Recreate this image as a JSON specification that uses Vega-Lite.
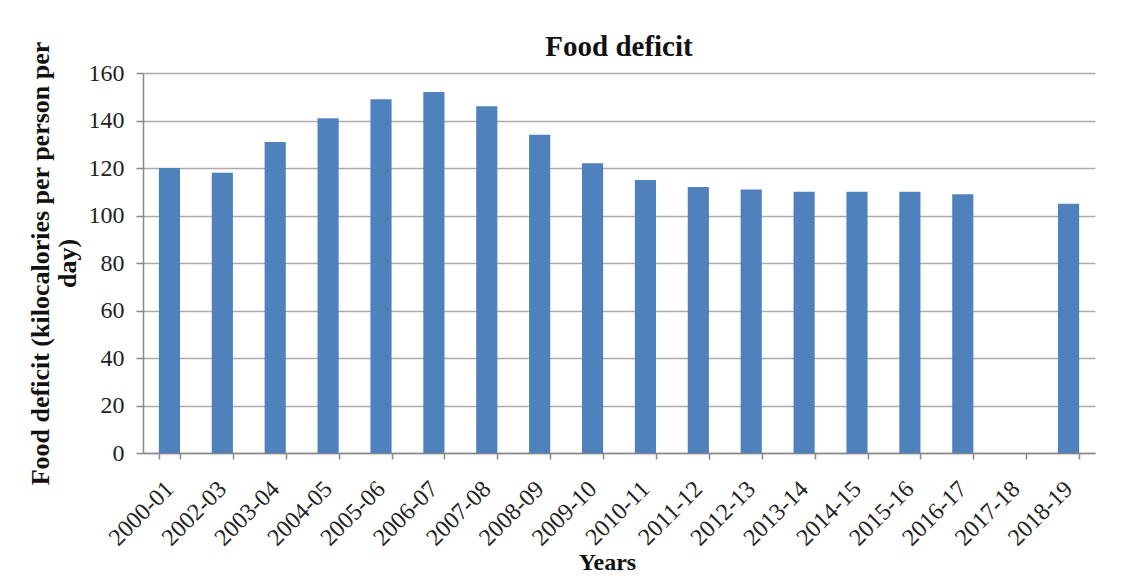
{
  "$schema": "https://vega.github.io/schema/vega-lite/v6.json",
  "width": 952,
  "height": 380,
  "autosize": "none",
  "padding": {"left": 143, "top": 73, "right": 50, "bottom": 126},
  "background": "white",
  "config": {"view": {"stroke": null}, "font": "Liberation Serif"},
  "title": {"text": "Food deficit", "fontSize": 29, "fontWeight": "bold", "font": "Liberation Serif", "color": "#111", "anchor": "middle", "offset": -21},
  "data": {"values": [
    {"year": "2000-01", "deficit": 120},
    {"year": "2002-03", "deficit": 118},
    {"year": "2003-04", "deficit": 131},
    {"year": "2004-05", "deficit": 141},
    {"year": "2005-06", "deficit": 149},
    {"year": "2006-07", "deficit": 152},
    {"year": "2007-08", "deficit": 146},
    {"year": "2008-09", "deficit": 134},
    {"year": "2009-10", "deficit": 122},
    {"year": "2010-11", "deficit": 115},
    {"year": "2011-12", "deficit": 112},
    {"year": "2012-13", "deficit": 111},
    {"year": "2013-14", "deficit": 110},
    {"year": "2014-15", "deficit": 110},
    {"year": "2015-16", "deficit": 110},
    {"year": "2016-17", "deficit": 109},
    {"year": "2017-18", "deficit": null},
    {"year": "2018-19", "deficit": 105}
  ]},
  "mark": {"type": "bar", "color": "#4F81BD"},
  "encoding": {
    "x": {
      "field": "year", "type": "nominal", "sort": null,
      "scale": {"domain": ["2000-01","2002-03","2003-04","2004-05","2005-06","2006-07","2007-08","2008-09","2009-10","2010-11","2011-12","2012-13","2013-14","2014-15","2015-16","2016-17","2017-18","2018-19"], "paddingInner": 0.6, "paddingOuter": 0.3},
      "axis": {
        "title": "Years", "titleFontSize": 24, "titleFontWeight": "bold", "titleColor": "#111", "titlePadding": 0, "titleX": 464,
        "labelAngle": -45, "labelAlign": "right", "labelBaseline": "middle", "labelFontSize": 24, "labelColor": "#222", "labelPadding": 26,
        "tickBand": "extent", "tickColor": "#888", "tickSize": 6, "tickWidth": 1.5,
        "domainColor": "#888", "domainWidth": 1.5, "grid": false
      }
    },
    "y": {
      "field": "deficit", "type": "quantitative",
      "scale": {"domain": [0, 160], "nice": false},
      "axis": {
        "title": ["Food deficit (kilocalories per person per", "day)"], "titleFontSize": 26, "titleFontWeight": "bold", "titleColor": "#111", "titlePadding": 8, "titleLineHeight": 27,
        "values": [0, 20, 40, 60, 80, 100, 120, 140, 160],
        "labelFontSize": 24, "labelColor": "#222", "labelPadding": 12,
        "tickColor": "#888", "tickSize": 7, "tickWidth": 1.5,
        "domainColor": "#888", "domainWidth": 1.5,
        "grid": true, "gridColor": "#aaa", "gridWidth": 1.5
      }
    }
  }
}
